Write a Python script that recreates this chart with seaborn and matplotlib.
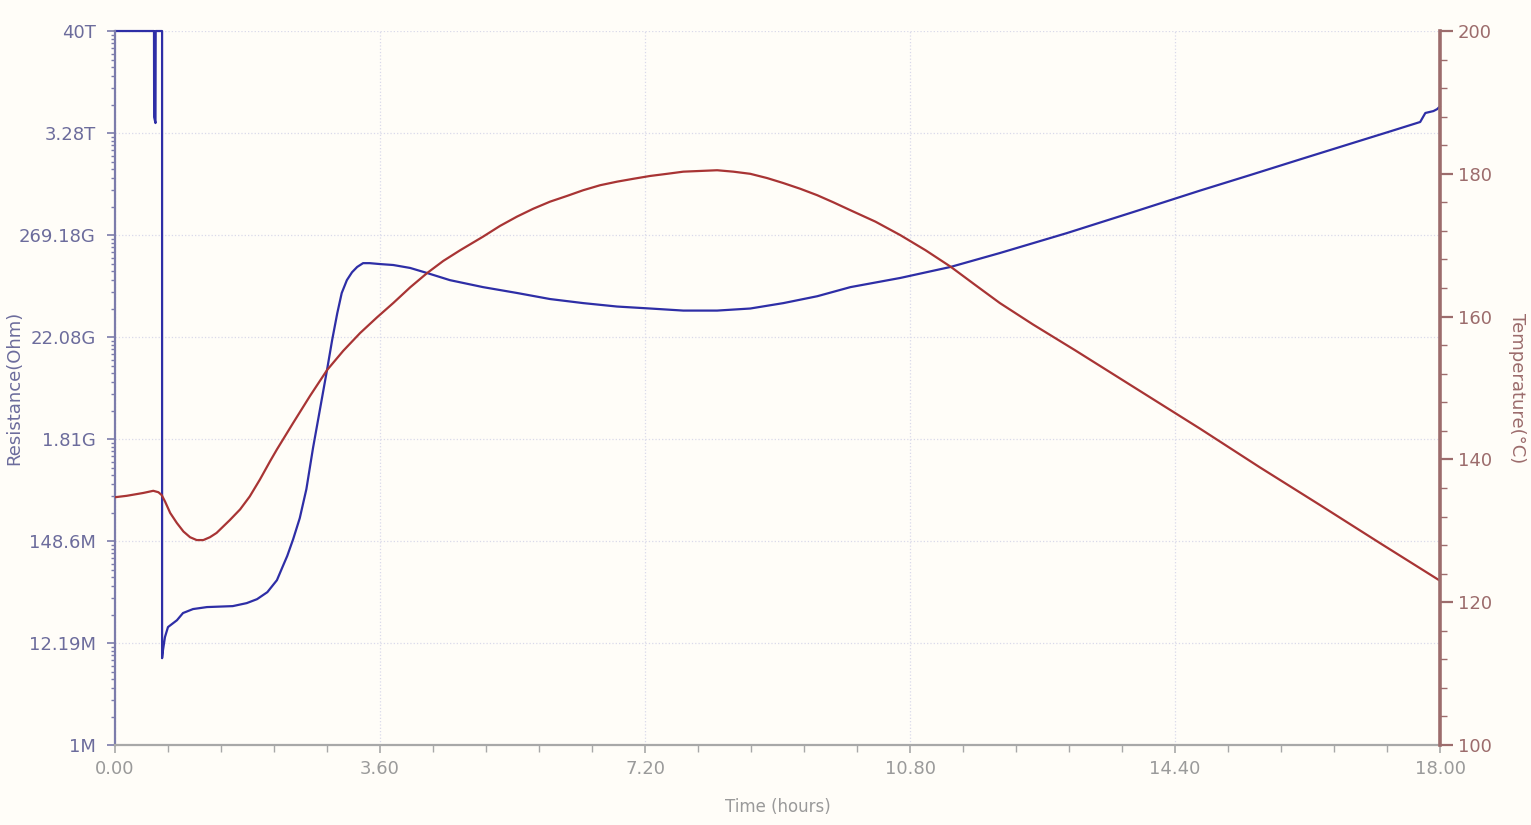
import numpy as np
import pandas as pd
import matplotlib
matplotlib.use('Agg')
import matplotlib.pyplot as plt
import seaborn as sns
from matplotlib.ticker import FixedLocator, MultipleLocator, NullFormatter

# resistance (Ohm) vs time (hours)
res_hours = [0.00, 0.53, 0.532, 0.55, 0.553, 0.64, 0.64, 0.652, 0.679, 0.72,
             0.842, 0.924, 1.06, 1.25, 1.60, 1.79, 1.93, 2.07, 2.20, 2.28,
             2.34, 2.42, 2.51, 2.60, 2.69, 2.79, 2.88, 2.95, 3.02, 3.08,
             3.15, 3.22, 3.29, 3.37, 3.46, 3.60, 3.78, 4.01, 4.24, 4.55,
             5.00, 5.46, 5.91, 6.36, 6.82, 7.27, 7.72, 8.18, 8.63, 9.08,
             9.54, 9.99, 10.67, 11.35, 12.02, 12.93, 13.83, 14.74, 15.42, 16.10,
             16.78, 17.32, 17.73, 17.80, 17.91, 17.96, 18.00]
res_ohm = [4.0e13, 4.0e13, 4.85e12, 4.19e12, 4.0e13, 4.0e13, 8.4e6, 1.02e7, 1.41e7, 1.80e7,
           2.13e7, 2.54e7, 2.80e7, 2.94e7, 3.01e7, 3.24e7, 3.57e7, 4.24e7, 5.69e7, 8.0e7,
           1.03e8, 1.55e8, 2.60e8, 5.3e8, 1.45e9, 3.96e9, 9.8e9, 2.05e10, 3.97e10, 6.49e10,
           8.9e10, 1.08e11, 1.23e11, 1.35e11, 1.35e11, 1.32e11, 1.29e11, 1.20e11, 1.06e11, 8.9e10,
           7.5e10, 6.5e10, 5.6e10, 5.07e10, 4.66e10, 4.44e10, 4.22e10, 4.22e10, 4.44e10, 5.07e10,
           6.0e10, 7.5e10, 9.4e10, 1.23e11, 1.73e11, 2.82e11, 4.72e11, 8.0e11, 1.17e12, 1.72e12,
           2.52e12, 3.41e12, 4.30e12, 5.36e12, 5.62e12, 5.89e12, 6.31e12]

# temperature (°C) vs time (hours)
temp_hours = [0.00, 0.16, 0.385, 0.52, 0.59, 0.635, 0.68, 0.75, 0.84, 0.93,
              1.02, 1.11, 1.20, 1.29, 1.38, 1.47, 1.56, 1.70, 1.83, 1.97,
              2.11, 2.20, 2.42, 2.65, 2.88, 3.10, 3.33, 3.56, 3.78, 4.01,
              4.24, 4.46, 4.69, 5.00, 5.23, 5.46, 5.68, 5.91, 6.14, 6.36,
              6.59, 6.82, 7.04, 7.27, 7.50, 7.72, 7.95, 8.18, 8.40, 8.63,
              8.86, 9.08, 9.31, 9.54, 9.76, 9.99, 10.33, 10.67, 11.01, 11.35,
              11.69, 12.02, 12.47, 13.04, 13.89, 14.74, 15.55, 16.37, 17.18, 18.00]
temp_c = [134.7, 134.9, 135.3, 135.6, 135.4, 135.0, 134.1, 132.5, 131.1, 129.9,
          129.1, 128.7, 128.7, 129.1, 129.7, 130.6, 131.5, 133.0, 134.8, 137.2,
          139.8, 141.4, 145.1, 148.9, 152.5, 155.2, 157.7, 159.9, 161.9, 164.1,
          166.1, 167.8, 169.3, 171.2, 172.7, 174.0, 175.1, 176.1, 176.9, 177.7,
          178.4, 178.9, 179.3, 179.7, 180.0, 180.3, 180.4, 180.5, 180.3, 180.0,
          179.4, 178.7, 177.9, 177.0, 176.0, 174.9, 173.3, 171.4, 169.3, 167.0,
          164.4, 161.9, 158.9, 155.3, 149.8, 144.3, 138.9, 133.6, 128.3, 123.0]

res_tick_labels = ['1M', '12.19M', '148.6M', '1.81G', '22.08G', '269.18G', '3.28T', '40T']
temp_ticks = [100, 120, 140, 160, 180, 200]
time_ticks = [0.0, 3.6, 7.2, 10.8, 14.4, 18.0]

res_df = pd.DataFrame({'hours': res_hours, 'ohm': res_ohm})
temp_df = pd.DataFrame({'hours': temp_hours, 'temp': temp_c})

sns.set_theme(style='white')
plt.rcParams['font.family'] = ['DejaVu Sans']

bg = '#fffdf8'
blue = '#2e2ea6'
red = '#a83434'
left_col = '#6c6c9c'
right_col = '#9c6c6c'
gray = '#9a9a9a'

fig = plt.figure(figsize=(15.31, 8.25), dpi=100, facecolor=bg)
ax = fig.add_axes([0.0751, 0.0970, 0.8655, 0.8654])
ax.set_facecolor(bg)

sns.lineplot(data=res_df, x='hours', y='ohm', ax=ax, color=blue, linewidth=1.6,
             estimator=None, sort=False, clip_on=False)
ax.set_yscale('log')
ymin, ymax = 1e6, 4e13
ax.set_ylim(ymin, ymax)
ax.set_xlim(0, 18)

major = np.logspace(np.log10(ymin), np.log10(ymax), len(res_tick_labels))
ax.yaxis.set_major_locator(FixedLocator(major))
ax.set_yticklabels(res_tick_labels)
minor = [m * k for m in major[:-1] for k in range(2, 12)]
ax.yaxis.set_minor_locator(FixedLocator(minor))
ax.yaxis.set_minor_formatter(NullFormatter())

ax.set_xticks(time_ticks)
ax.set_xticklabels([f'{t:.2f}' for t in time_ticks])
ax.xaxis.set_minor_locator(MultipleLocator(0.72))

ax.grid(True, which='major', axis='both', linestyle=':', linewidth=0.9, color='#d9d9ea')

for s in ['top', 'right']:
    ax.spines[s].set_visible(False)
ax.spines['left'].set_color('#7c7cab')
ax.spines['left'].set_linewidth(1.6)
ax.spines['bottom'].set_color('#a8a8a8')
ax.spines['bottom'].set_linewidth(1.6)

ax.tick_params(axis='y', which='major', direction='out', length=6, width=1.2,
               color='#7c7cab', labelcolor=left_col, labelsize=13, pad=8, left=True)
ax.tick_params(axis='y', which='minor', direction='out', length=3, width=1.0,
               color='#7c7cab', left=True)
ax.tick_params(axis='x', which='major', direction='out', length=6, width=1.2,
               color='#a8a8a8', labelcolor=gray, labelsize=13, pad=5, bottom=True)
ax.tick_params(axis='x', which='minor', direction='out', length=5, width=1.0,
               color='#a8a8a8', bottom=True)

ax.set_xlabel('Time (hours)', color=gray, fontsize=12, labelpad=14)
ax.set_ylabel('Resistance(Ohm)', color=left_col, fontsize=13)
ax.yaxis.set_label_coords(-0.0690, 0.5)

ax2 = ax.twinx()
sns.lineplot(data=temp_df, x='hours', y='temp', ax=ax2, color=red, linewidth=1.6,
             estimator=None, sort=False)
ax2.set_ylim(100, 200)
ax2.set_xlim(0, 18)
ax2.set_yticks(temp_ticks)
ax2.yaxis.set_minor_locator(MultipleLocator(4))
for s in ['top', 'left', 'bottom']:
    ax2.spines[s].set_visible(False)
ax2.spines['right'].set_color(right_col)
ax2.spines['right'].set_linewidth(2.6)
ax2.tick_params(axis='y', which='major', direction='out', length=9, width=1.6,
                color=right_col, labelcolor=right_col, labelsize=13, pad=4, right=True)
ax2.tick_params(axis='y', which='minor', direction='out', length=5, width=1.0,
                color=right_col, right=True)
ax2.set_ylabel('Temperature(°C)', color=right_col, fontsize=13, rotation=270, labelpad=24)
ax2.grid(False)

fig.savefig('out.png', dpi=100, facecolor=bg)
